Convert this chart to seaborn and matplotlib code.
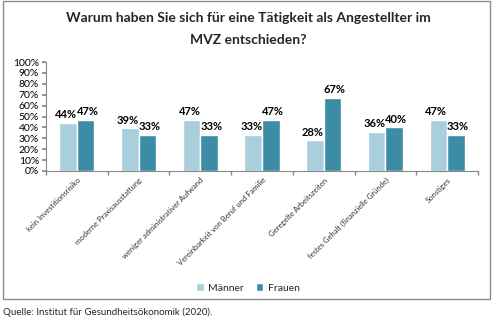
import matplotlib
matplotlib.use("Agg")
import matplotlib.pyplot as plt
import seaborn as sns
import pandas as pd
from matplotlib.patches import Rectangle
from matplotlib.ticker import FixedLocator

categories = ["kein Investitionsrisiko", "moderne Praxisausstattung",
              "weniger administrativer Aufwand", "Vereinbarkeit von Beruf und Familie",
              "Geregelte Arbeitszeiten", "festes Gehalt (finanzielle Gründe)", "Sonstiges"]
maenner = [44, 39, 47, 33, 28, 36, 47]
frauen = [47, 33, 33, 47, 67, 40, 33]
series = ["Männer", "Frauen"]
yticks = list(range(0, 101, 10))

sns.set_theme(style="white")
plt.rcParams['font.family'] = ['Lato', 'DejaVu Sans']

df = pd.DataFrame({
    "Kategorie": categories * 2,
    "Wert": maenner + frauen,
    "Geschlecht": [series[0]] * len(categories) + [series[1]] * len(categories),
})

fig = plt.figure(figsize=(4.96, 3.27), dpi=100)
ax = fig.add_axes([46/496, 1-171/327, (478-46)/496, (171-62)/327])

palette = {"Männer": "#A9CEDC", "Frauen": "#3D8CA5"}
sns.barplot(data=df, x="Kategorie", y="Wert", hue="Geschlecht", palette=palette,
            width=0.57, ax=ax, saturation=1, legend=True)

shifts = [-1.5, 1.5]
for cont, dx in zip(ax.containers, shifts):
    for bar, v in zip(cont, cont.datavalues):
        ax.annotate(f"{int(round(v))}%",
                    (bar.get_x() + bar.get_width() / 2, bar.get_height()),
                    xytext=(dx, 2), textcoords="offset points",
                    ha='center', va='bottom', fontsize=8, fontweight='bold', color='black')

ax.set_ylim(0, 100)
ax.set_xlim(-0.5, len(categories) - 0.5)
ax.set_yticks(yticks)
ax.set_yticklabels([f"{t}%" for t in yticks], fontsize=7.5, color='black')
ax.set_xlabel("")
ax.set_ylabel("")
ax.set_xticks(range(len(categories)))
ax.set_xticklabels(categories, rotation=45, ha='right', rotation_mode='anchor',
                   fontsize=5.5, color='#333333')
ax.tick_params(axis='x', which='major', length=0, pad=4)
ax.xaxis.set_minor_locator(FixedLocator([i - 0.5 for i in range(len(categories) + 1)]))
ax.tick_params(axis='x', which='minor', length=3, color='#888888', direction='out', bottom=True)
ax.tick_params(axis='y', length=3, color='#888888', direction='out', left=True, pad=2)

for s in ["top", "right"]:
    ax.spines[s].set_visible(False)
for s in ["left", "bottom"]:
    ax.spines[s].set_color('#888888')
    ax.spines[s].set_linewidth(0.8)

leg = ax.legend(loc='center', bbox_to_anchor=(248/496, 1-288/327), bbox_transform=fig.transFigure,
                ncol=2, frameon=False, fontsize=7.5, handlelength=0.7, handleheight=0.7,
                handletextpad=0.4, columnspacing=1.2)

fig.patches.append(Rectangle((3/496, 1-299/327), (490-3)/496, 299/327 - 0.002,
                             transform=fig.transFigure, fill=False, edgecolor='#8c8c8c',
                             linewidth=1.0))

fig.text(248/496, 1-18/327, "Warum haben Sie sich für eine Tätigkeit als Angestellter im",
         ha='center', va='center', fontsize=10, fontweight='bold')
fig.text(248/496, 1-40/327, "MVZ entschieden?", ha='center', va='center',
         fontsize=10, fontweight='bold')
fig.text(3/496, 1-312/327, "Quelle: Institut für Gesundheitsökonomik (2020).",
         ha='left', va='center', fontsize=7)

fig.savefig("out.png", dpi=100)
